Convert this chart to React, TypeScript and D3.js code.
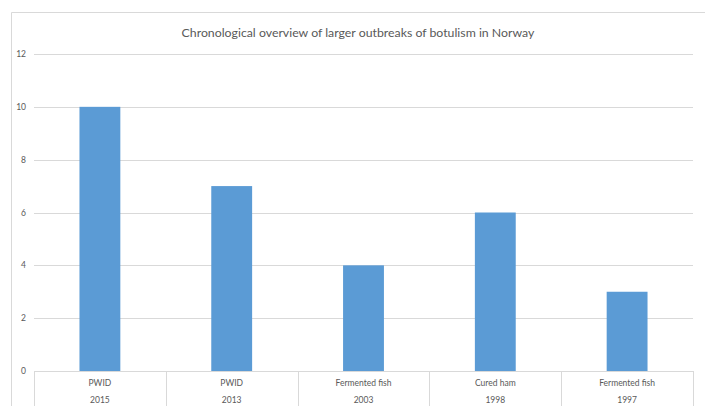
import React, { useEffect, useRef } from 'react';
import * as d3 from 'd3';

const categories = ['PWID', 'PWID', 'Fermented fish', 'Cured ham', 'Fermented fish'];
const years = ['2015', '2013', '2003', '1998', '1997'];
const cases = [10, 7, 4, 6, 3];
const yTicks = [0, 2, 4, 6, 8, 10, 12];
const title = 'Chronological overview of larger outbreaks of botulism in Norway';

const App = () => {
  const svgRef = useRef<SVGSVGElement>(null);

  useEffect(() => {
    const svg = d3.select(svgRef.current);
    svg.selectAll('*').remove();

    const W = 705;
    const H = 406;
    const left = 34;
    const right = 693;
    const top = 54;
    const bottom = 371;
    const font = 'Lato, "Open Sans", sans-serif';

    // chart frame (only left and top edges visible)
    svg.append('path')
      .attr('d', `M11.5,${H} V12.5 H${W}`)
      .attr('fill', 'none')
      .attr('stroke', '#d9d9d9')
      .attr('stroke-width', 1);

    svg.append('text')
      .attr('x', 358)
      .attr('y', 37)
      .attr('text-anchor', 'middle')
      .attr('font-family', font)
      .attr('font-size', 12.3)
      .attr('fill', '#595959')
      .text(title);

    const x = d3.scaleBand<number>()
      .domain(d3.range(categories.length))
      .range([left, right])
      .paddingInner(0.69)
      .paddingOuter(0.345);

    const band = d3.scaleBand<number>()
      .domain(d3.range(categories.length))
      .range([left, right]);

    const y = d3.scaleLinear().domain([0, 12]).range([bottom, top]);

    // gridlines
    svg.append('g')
      .selectAll('line')
      .data(yTicks.filter(t => t > 0))
      .enter().append('line')
      .attr('x1', left)
      .attr('x2', right)
      .attr('y1', d => Math.round(y(d)) + 0.5)
      .attr('y2', d => Math.round(y(d)) + 0.5)
      .attr('stroke', '#d9d9d9');

    // y labels
    svg.append('g')
      .selectAll('text')
      .data(yTicks)
      .enter().append('text')
      .attr('x', 26)
      .attr('y', d => y(d) + 3)
      .attr('text-anchor', 'end')
      .attr('font-family', font)
      .attr('font-size', 8.5)
      .attr('fill', '#595959')
      .text(d => d);

    // bars
    svg.append('g')
      .selectAll('rect')
      .data(cases)
      .enter().append('rect')
      .attr('x', (d, i) => x(i)!)
      .attr('y', d => y(d))
      .attr('width', x.bandwidth())
      .attr('height', d => y(0) - y(d))
      .attr('fill', '#5b9bd5');

    // category table
    const g = svg.append('g');
    g.append('line')
      .attr('x1', left).attr('x2', right)
      .attr('y1', bottom + 0.5).attr('y2', bottom + 0.5)
      .attr('stroke', '#d9d9d9');
    const bounds = d3.range(categories.length + 1).map(i =>
      i < categories.length ? band(i)! : right);
    g.selectAll('line.sep')
      .data(bounds)
      .enter().append('line')
      .attr('class', 'sep')
      .attr('x1', d => Math.round(d) + 0.5)
      .attr('x2', d => Math.round(d) + 0.5)
      .attr('y1', bottom)
      .attr('y2', H)
      .attr('stroke', '#d9d9d9');

    g.selectAll('text.cat')
      .data(categories)
      .enter().append('text')
      .attr('class', 'cat')
      .attr('x', (d, i) => band(i)! + band.bandwidth() / 2)
      .attr('y', 386)
      .attr('text-anchor', 'middle')
      .attr('font-family', font)
      .attr('font-size', 8.5)
      .attr('fill', '#595959')
      .text(d => d);

    g.selectAll('text.year')
      .data(years)
      .enter().append('text')
      .attr('class', 'year')
      .attr('x', (d, i) => band(i)! + band.bandwidth() / 2)
      .attr('y', 403)
      .attr('text-anchor', 'middle')
      .attr('font-family', font)
      .attr('font-size', 8.5)
      .attr('fill', '#595959')
      .text(d => d);
  }, []);

  return (
    <svg
      ref={svgRef}
      width={705}
      height={406}
      style={{ position: 'absolute', left: 0, top: 0, background: '#fff' }}
    />
  );
};

export default App;
